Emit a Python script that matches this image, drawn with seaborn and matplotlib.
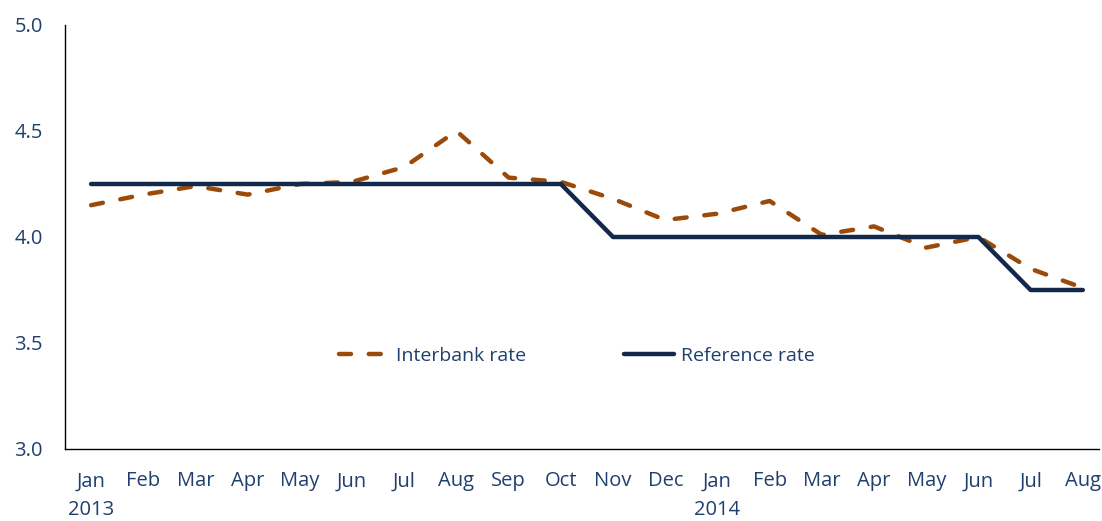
import seaborn as sns
import matplotlib.pyplot as plt
import pandas as pd

months = ['Jan', 'Feb', 'Mar', 'Apr', 'May', 'Jun', 'Jul', 'Aug', 'Sep', 'Oct',
          'Nov', 'Dec', 'Jan', 'Feb', 'Mar', 'Apr', 'May', 'Jun', 'Jul', 'Aug']
years = {0: '2013', 12: '2014'}
interbank = [4.15, 4.20, 4.24, 4.20, 4.25, 4.26, 4.33, 4.50, 4.28, 4.26,
             4.18, 4.08, 4.11, 4.17, 4.01, 4.05, 3.95, 4.00, 3.85, 3.76]
reference = [4.25, 4.25, 4.25, 4.25, 4.25, 4.25, 4.25, 4.25, 4.25, 4.25,
             4.00, 4.00, 4.00, 4.00, 4.00, 4.00, 4.00, 4.00, 3.75, 3.75]

sns.set_style('white')
plt.rcParams['font.family'] = ['Open Sans', 'DejaVu Sans']

data = pd.DataFrame({'idx': range(len(months)), 'Interbank rate': interbank,
                     'Reference rate': reference})

fig = plt.figure(figsize=(11.02, 5.21), dpi=100)
ax = fig.add_axes([65 / 1102, 1 - 449 / 521, 1034 / 1102, 424 / 521])

text_col = '#1F3F6E'
sns.lineplot(x='idx', y='Interbank rate', data=data, ax=ax, color='#9C4A0A',
             linewidth=3.2, linestyle=(0, (2.7, 4.0)), dash_capstyle='round',
             label='Interbank rate')
sns.lineplot(x='idx', y='Reference rate', data=data, ax=ax, color='#13294B',
             linewidth=3.2, solid_capstyle='round', label='Reference rate')

ax.set_xlim(-0.5, 19.31)
ax.set_ylim(3.0, 5.0)
ax.set_yticks([3.0, 3.5, 4.0, 4.5, 5.0])
ax.set_yticklabels(['3.0', '3.5', '4.0', '4.5', '5.0'])
ax.set_xticks(range(len(months)))
ax.set_xticklabels([m + ('\n' + years[i] if i in years else '') for i, m in enumerate(months)],
                   va='top', linespacing=1.6)
ax.tick_params(axis='both', length=0, labelsize=14.5, colors=text_col)
ax.tick_params(axis='x', pad=16)
ax.tick_params(axis='y', pad=16)
ax.set_xlabel('')
ax.set_ylabel('')
for s in ['top', 'right']:
    ax.spines[s].set_visible(False)
for s in ['left', 'bottom']:
    ax.spines[s].set_color('#000000')
    ax.spines[s].set_linewidth(1.0)

leg = ax.legend(loc='center', bbox_to_anchor=(0.495, 0.22), ncol=2, frameon=False,
                fontsize=14, handlelength=2.6, handletextpad=0.35, columnspacing=5.0)
for t in leg.get_texts():
    t.set_color(text_col)

fig.savefig('out.png', dpi=100)
